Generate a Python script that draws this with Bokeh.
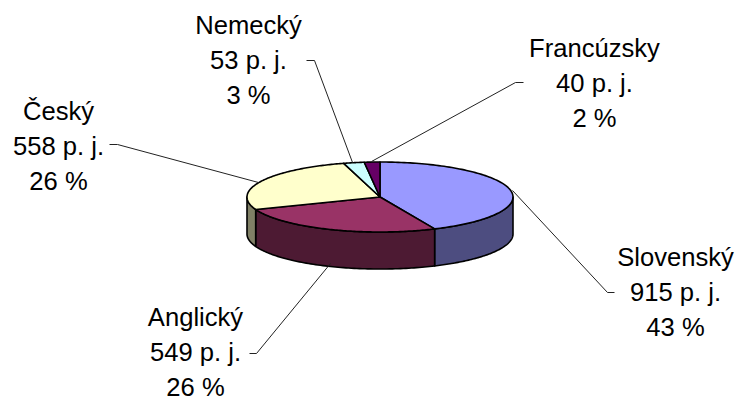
import numpy as np
from bokeh.plotting import figure
from bokeh.embed import file_html
from bokeh.resources import INLINE
from bokeh.core.properties import value

names = ["Slovenský", "Anglický", "Český", "Nemecký", "Francúzsky"]
points = [915, 549, 558, 53, 40]
percents = ["43 %", "26 %", "26 %", "3 %", "2 %"]
top_colors = ["#9999FF", "#993366", "#FFFFCC", "#CCFFFF", "#660066"]
side_colors = ["#4D4D80", "#4D1A33", "#808066", "#668080", "#330033"]

# layout (page pixels)
CX, CY, RX, RY, DEPTH = 379.5, 196.5, 133, 35, 37
label_x = [675, 195, 58, 248, 594]
label_y = [256.5, 316, 110, 24.5, 47]
LINE_GAP = 35
leaders = [
    ([512, 607, 614], [190, 292, 292]),
    ([330, 256, 249], [263, 353, 353]),
    ([258, 117, 109], [182, 144, 144]),
    ([352, 314, 306], [162, 60, 60]),
    ([371, 515, 523], [161, 82, 82]),
]

p = figure(width=736, height=401, x_range=(0, 736), y_range=(401, 0),
           output_backend="svg", toolbar_location=None, min_border=0,
           outline_line_color=None, background_fill_color="white")
p.axis.visible = False
p.grid.visible = False

total = sum(points)
edges = np.cumsum([0] + points) / total * 2 * np.pi


def ex(t):
    return CX + RX * np.sin(t)


def ey(t):
    return CY - RY * np.cos(t)


# walls (front half only)
for i in range(len(points)):
    a, b = max(edges[i], np.pi / 2), min(edges[i + 1], 3 * np.pi / 2)
    if b <= a:
        continue
    t = np.linspace(a, b, 80)
    xs = list(ex(t)) + list(ex(t[::-1]))
    ys = list(ey(t)) + list(ey(t[::-1]) + DEPTH)
    p.patch(xs, ys, fill_color=side_colors[i], line_color="black", line_width=1.6, line_join="round")

# top surface
for i in range(len(points)):
    t = np.linspace(edges[i], edges[i + 1], 120)
    xs = [CX] + list(ex(t))
    ys = [CY] + list(ey(t))
    p.patch(xs, ys, fill_color=top_colors[i], line_color="black", line_width=1.6, line_join="round")

# leader lines
for xs, ys in leaders:
    p.line(xs, ys, line_color="#222222", line_width=1)

# labels
for i, nm in enumerate(names):
    rows = [nm, f"{points[i]} p. j.", percents[i]]
    for k, row in enumerate(rows):
        p.text([label_x[i]], [label_y[i] + k * LINE_GAP], text=[row],
               text_font=value("Liberation Sans"), text_font_size="25.6px",
               text_align="center", text_baseline="middle", text_color="black")

open("out.html", "w").write(file_html(p, INLINE))
